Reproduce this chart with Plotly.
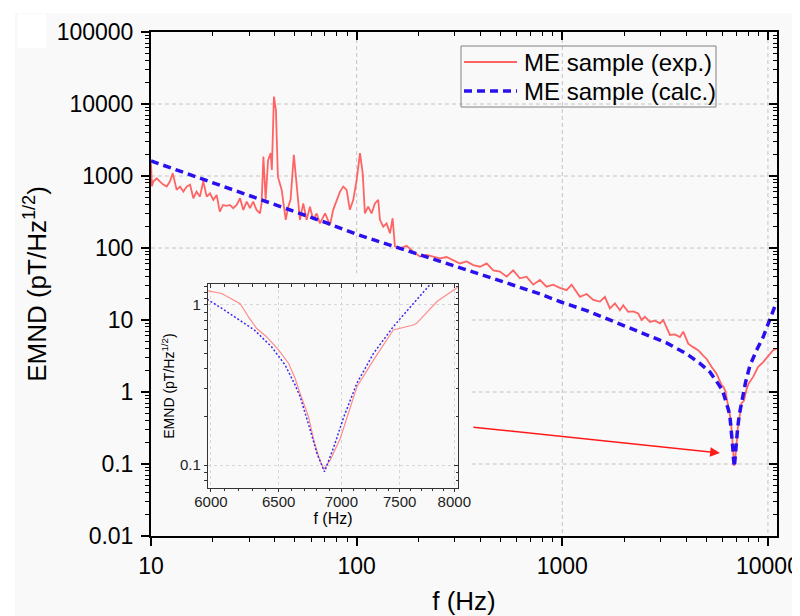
import numpy as np
import plotly.graph_objects as go

# ---------------- data ----------------
exp_f = [10, 10.1, 10.26, 10.66, 11.06, 11.48, 11.92, 12.37, 12.75, 13.33,
         13.84, 14.36, 14.92, 15.49, 16.06, 16.67, 17.3, 17.95, 18.66, 19.36,
         20.1, 20.86, 21.6, 22.4, 23.3, 24.2, 25.1, 26.1, 27.1, 28.1,
         29.2, 30.3, 31.4, 32.6, 33.9, 34.5, 35.2, 36.1, 37.1, 38.2,
         38.7, 39.6, 40.5, 41.4, 43.2, 45.2, 46.5, 47.7, 49.5, 51.1,
         53, 55, 57.1, 59.3, 61.5, 63.9, 66.3, 70.2, 74.2, 76.9,
         80, 83, 86.1, 89.4, 92.7, 96.3, 100, 103.8, 107, 109.7,
         113.8, 118.2, 122.7, 127.3, 129.8, 134.7, 139.9, 145.2, 149.6, 153.5,
         162.3, 175, 188.4, 203, 218.9, 235.6, 254, 273.8, 295, 318,
         342.6, 369, 398, 428.8, 461.8, 497.6, 536, 577, 622, 670,
         722, 778, 838, 903, 973, 1049, 1110, 1218, 1313, 1414,
         1524, 1611, 1704, 1803, 1906, 1978, 2091, 2213, 2340, 2430,
         2522, 2668, 2821, 2984, 3096, 3214, 3337, 3529, 3733, 3874,
         4096, 4330, 4580, 4843, 5027, 5316, 5622, 5970, 6077, 6211,
         6271, 6332, 6407, 6499, 6576, 6627, 6667, 6734, 6775, 6815,
         6855, 6909, 6991, 7047, 7130, 7272, 7443, 7622, 7651, 7838,
         8040, 8470, 8960, 9480, 10020, 10590, 11010]
exp_v = [1500, 720, 836, 930, 836, 759, 713, 845, 1094, 641,
         713, 607, 713, 759, 491, 607, 517, 845, 517, 576,
         466, 546, 320, 396, 384, 396, 357, 396, 491, 337,
         441, 357, 441, 337, 302, 419, 1860, 467, 1660, 2075,
         1216, 12700, 8300, 980, 641, 246, 375, 466, 1970, 713,
         246, 417, 246, 375, 246, 302, 220, 302, 209, 339,
         466, 607, 713, 641, 339, 466, 883, 2075, 1096, 302,
         375, 302, 417, 466, 246, 198, 220, 160, 259, 105,
         99, 107, 89, 76, 80, 76, 72, 75, 68, 61,
         65, 58, 55, 61, 49, 47, 40, 49, 38, 40,
         31, 36, 29, 31, 28, 26, 31, 21, 23, 19,
         18, 21, 14.5, 17, 13.7, 16, 13, 13.2, 12.3, 10,
         11.1, 9.4, 9.8, 9, 10, 8, 6.2, 6.3, 5.8, 6.9,
         4.7, 4.2, 3.8, 3.2, 2.9, 2.24, 1.8, 1.23, 1.18, 1.02,
         0.845, 0.716, 0.634, 0.524, 0.433, 0.349, 0.28, 0.2, 0.144, 0.113,
         0.094, 0.108, 0.147, 0.201, 0.309, 0.454, 0.698, 0.75, 0.768, 1.05,
         1.3, 1.62, 2.24, 2.6, 3.1, 3.8, 4.0]

calc_f = [10, 15, 20, 30, 47, 70, 100, 150, 200, 343,
          500, 778, 1000, 1313, 1524, 2213, 3214, 4018, 4667, 5220,
          5729, 5970, 6077, 6185, 6316, 6444, 6550, 6627, 6667, 6747,
          6800, 6862, 6938, 7020, 7130, 7272, 7443, 7622, 7777, 8160,
          8800, 9480, 10100, 11020]
calc_v = [1620, 1080, 810, 540, 340, 228, 155, 107, 80, 50,
          35, 23, 17.5, 13.5, 11.3, 7.4, 4.8, 3.4, 2.5, 1.9,
          1.3, 1.09, 0.953, 0.826, 0.698, 0.55, 0.422, 0.317, 0.268, 0.166,
          0.119, 0.091, 0.13, 0.2, 0.325, 0.5, 0.732, 1.02, 1.35, 2.3,
          3.8, 5.8, 9.5, 18]

series_names = ["ME sample (exp.)", "ME sample (calc.)"]
main_x_ticks = [10, 100, 1000, 10000]
main_y_ticks = [0.01, 0.1, 1, 10, 100, 1000, 10000, 100000]
inset_x_ticks = [6000, 6500, 7000, 7500, 8000]
inset_y_ticks = [0.1, 1]

# ---------------- layout geometry (page pixels; page has an 8px body margin) ----
OFF = 8
W, H = 800 - OFF, 616 - OFF
PL, PR, PT, PB = 151, 777, 32, 536          # plot area in page pixels
ML, MT = PL - OFF, PT - OFF
MR, MB = W - (PR - OFF), H - (PB - OFF)
PW, PH = PR - PL, PB - PT


def px_x(p):
    return (p - PL) / PW


def px_y(p):
    return (PB - p) / PH


def log_minor(lo_exp, hi_exp):
    return [k * 10.0 ** n for n in range(lo_exp, hi_exp) for k in range(2, 10)]


FONT = "Arial, Liberation Sans, sans-serif"
X_RANGE = [1, 4.044]
Y_RANGE = [-2, 5]
INSET_X_RANGE = [np.log10(5979), np.log10(8035)]
INSET_Y_RANGE = [np.log10(0.0724), np.log10(1.346)]

EXP_LINE = dict(color="#ff6464", width=1.8)
CALC_LINE = dict(color="#2a10ee", width=3.5, dash="8px,5px")

main_x_minor = log_minor(1, 5)
main_y_minor = log_minor(-2, 5)
inset_x_minor = [f for f in range(6000, 8100, 100) if f not in inset_x_ticks]
inset_y_minor = [0.08, 0.09] + log_minor(-1, 0) + [1.1, 1.2, 1.3]

# main dashed grid, interrupted where the inset sits
inset_f_right = 363.0
inset_v_top = 45.0
gx, gy = [], []
for f in main_x_ticks[1:]:
    bottom = inset_v_top if f < inset_f_right else main_y_ticks[0]
    gx += [f, f, None]
    gy += [main_y_ticks[-1], bottom, None]
for v in main_y_ticks[1:-1]:
    left = inset_f_right if v < inset_v_top else main_x_ticks[0]
    gx += [left, 10 ** X_RANGE[1], None]
    gy += [v, v, None]

fig = go.Figure()
fig.add_trace(go.Scatter(x=gx, y=gy, mode="lines", showlegend=False, hoverinfo="skip",
                         line=dict(color="#c4c4c4", width=1, dash="4px,3px")))
fig.add_trace(go.Scatter(x=exp_f, y=exp_v, mode="lines", name=series_names[0],
                         showlegend=False, line=EXP_LINE))
fig.add_trace(go.Scatter(x=calc_f, y=calc_v, mode="lines", name=series_names[1],
                         showlegend=False, line=CALC_LINE))
# inset
fig.add_trace(go.Scatter(x=exp_f, y=exp_v, mode="lines", showlegend=False,
                         xaxis="x2", yaxis="y2", line=dict(color="#ff8c8c", width=1.2)))
fig.add_trace(go.Scatter(x=calc_f, y=calc_v, mode="lines", showlegend=False,
                         xaxis="x2", yaxis="y2",
                         line=dict(color="#3a2af0", width=1.5, dash="2px,2px")))
# empty traces so the mirrored tick axes get drawn
for xa, ya in [("x3", "y"), ("x", "y3"), ("x4", "y2"), ("x2", "y4")]:
    fig.add_trace(go.Scatter(x=[], y=[], xaxis=xa, yaxis=ya, showlegend=False,
                             hoverinfo="skip"))

main_ax = dict(type="log", showgrid=False, zeroline=False, showline=True,
               linecolor="black", linewidth=2, ticks="outside", ticklen=8,
               tickwidth=1.5, tickcolor="black", tickmode="array",
               automargin=False,
               tickfont=dict(family=FONT, size=23, color="black"))
mirror_ax = dict(type="log", showgrid=False, zeroline=False, showline=False,
                 ticks="inside", ticklen=8, tickwidth=1.5, tickcolor="black",
                 tickmode="array", showticklabels=False, automargin=False)
minor_out = dict(ticks="outside", ticklen=4, tickwidth=1.2, tickcolor="black",
                 tickmode="array", showgrid=False)
minor_in = dict(ticks="inside", ticklen=4, tickwidth=1.2, tickcolor="black",
                tickmode="array", showgrid=False)

inset_ax = dict(type="log", zeroline=False, showline=True, linecolor="#333333",
                linewidth=1.3, mirror=True, ticks="outside", ticklen=3, tickwidth=1,
                tickcolor="#333333", showgrid=True, gridcolor="#d6d6d6",
                griddash="dot", gridwidth=1, automargin=False, tickmode="array",
                tickfont=dict(family=FONT, size=15, color="#222222"))
inset_mirror = dict(type="log", showgrid=False, zeroline=False, showline=False,
                    ticks="inside", ticklen=4, tickcolor="#333333",
                    showticklabels=False, tickmode="array", automargin=False)
inset_minor_out = dict(ticks="outside", ticklen=2.5, tickcolor="#333333",
                       tickmode="array", showgrid=False)
inset_minor_in = dict(ticks="inside", ticklen=2.5, tickcolor="#333333",
                      tickmode="array", showgrid=False)


def fmt(v):
    return f"{v:g}" if v < 1 else f"{int(v)}"


fig.update_layout(
    width=W, height=H, autosize=False,
    margin=dict(l=ML, r=MR, t=MT, b=MB, autoexpand=False),
    paper_bgcolor="white", plot_bgcolor="rgba(0,0,0,0)",
    font=dict(family=FONT, color="black"),
    showlegend=False,
    xaxis=dict(main_ax, range=X_RANGE, domain=[0, 1], anchor="y", mirror=True,
               tickvals=main_x_ticks, ticktext=[fmt(t) for t in main_x_ticks],
               minor=dict(minor_out, tickvals=main_x_minor),
               title=dict(text="f (Hz)", font=dict(family=FONT, size=26), standoff=15)),
    yaxis=dict(main_ax, range=Y_RANGE, domain=[0, 1], anchor="x", mirror=True,
               tickvals=main_y_ticks, ticktext=[fmt(t) for t in main_y_ticks],
               ticklabelstandoff=3,
               minor=dict(minor_out, tickvals=main_y_minor),
               title=dict(text="EMND (pT/Hz<sup>1/2</sup>)",
                          font=dict(family=FONT, size=26), standoff=3)),
    xaxis3=dict(mirror_ax, range=X_RANGE, overlaying="x", side="top", anchor="y",
                tickvals=main_x_ticks, minor=dict(minor_in, tickvals=main_x_minor)),
    yaxis3=dict(mirror_ax, range=Y_RANGE, overlaying="y", side="right", anchor="x",
                tickvals=main_y_ticks, minor=dict(minor_in, tickvals=main_y_minor)),
    xaxis2=dict(inset_ax, range=INSET_X_RANGE, domain=[px_x(208), px_x(458)],
                anchor="y2", tickvals=inset_x_ticks,
                ticktext=[str(t) for t in inset_x_ticks], ticklabelstandoff=-3,
                minor=dict(inset_minor_out, tickvals=inset_x_minor),
                title=dict(text="f (Hz)", font=dict(family=FONT, size=16), standoff=0)),
    yaxis2=dict(inset_ax, range=INSET_Y_RANGE, domain=[px_y(487.7), px_y(284.3)],
                anchor="x2", tickvals=inset_y_ticks,
                ticktext=[fmt(t) for t in inset_y_ticks],
                minor=dict(inset_minor_out, tickvals=inset_y_minor),
                title=dict(text="EMND (pT/Hz<sup>1/2</sup>)",
                           font=dict(family=FONT, size=14), standoff=2)),
    xaxis4=dict(inset_mirror, range=INSET_X_RANGE, overlaying="x2", side="top",
                anchor="y2", tickvals=inset_x_ticks,
                minor=dict(inset_minor_in, tickvals=inset_x_minor)),
    yaxis4=dict(inset_mirror, range=INSET_Y_RANGE, overlaying="y2", side="right",
                anchor="x2", tickvals=inset_y_ticks,
                minor=dict(inset_minor_in, tickvals=inset_y_minor)),
    shapes=[
        # light grey page panel and the blanked corner label
        dict(type="rect", xref="paper", yref="paper", layer="below",
             x0=px_x(15), x1=px_x(800), y0=px_y(620), y1=px_y(13),
             fillcolor="#f9f9f9", line=dict(width=0)),
        dict(type="rect", xref="paper", yref="paper", layer="above",
             x0=px_x(18), x1=px_x(46), y0=px_y(48), y1=px_y(14),
             fillcolor="white", line=dict(width=0)),
        # legend frame and line samples
        dict(type="rect", xref="paper", yref="paper", layer="above",
             x0=px_x(461), x1=px_x(716), y0=px_y(107), y1=px_y(46),
             fillcolor="rgba(0,0,0,0)", line=dict(color="#808080", width=1)),
        dict(type="line", xref="paper", yref="paper", layer="above",
             x0=px_x(464), x1=px_x(517), y0=px_y(62), y1=px_y(62),
             line=dict(color=EXP_LINE["color"], width=2)),
        dict(type="line", xref="paper", yref="paper", layer="above",
             x0=px_x(464), x1=px_x(517), y0=px_y(91), y1=px_y(91),
             line=CALC_LINE),
    ],
    annotations=[
        dict(x=px_x(522), y=px_y(62), xref="paper", yref="paper", text=series_names[0],
             showarrow=False, xanchor="left", yanchor="middle",
             font=dict(family=FONT, size=24, color="black")),
        dict(x=px_x(522), y=px_y(91), xref="paper", yref="paper", text=series_names[1],
             showarrow=False, xanchor="left", yanchor="middle",
             font=dict(family=FONT, size=24, color="black")),
        dict(x=np.log10(5840), y=np.log10(0.142), xref="x", yref="y",
             ax=-248, ay=-26, axref="pixel", ayref="pixel", text="",
             showarrow=True, arrowhead=2, arrowsize=1.3, arrowwidth=1.5,
             arrowcolor="#ff1a1a"),
    ],
)

fig.write_html("out.html")
